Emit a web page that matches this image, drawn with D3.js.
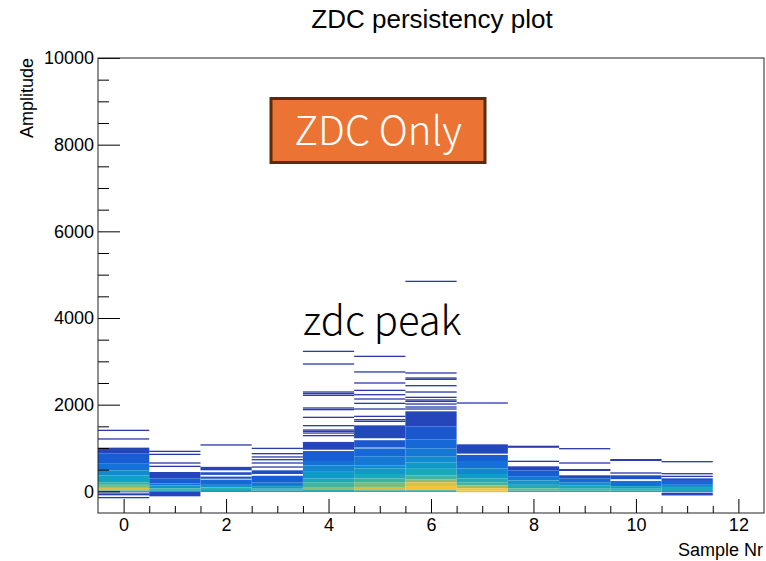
<!DOCTYPE html>
<html lang="en">

<head>
    <meta charset="UTF-8">
    <title>ZDC persistency plot</title>
    <script src="https://cdn.jsdelivr.net/npm/d3@7/dist/d3.min.js"></script>
    <style>
        body { margin: 0; background: #fff; }
        .axis text { font-family: "Liberation Sans", Arial, sans-serif; font-size: 18px; fill: #000; }
        .axis line { stroke: #000; }
    </style>
</head>

<body>
    <svg width="766" height="561" id="mainsvg"></svg>
    <script>
        // sample numbers (x bins)
        const samples = [0, 1, 2, 3, 4, 5, 6, 7, 8, 9, 10, 11]
        // dense part of each sample: [amp low, amp high, entries]
        const dense = [
            [[870, 1008, 1.5], [650, 870, 3], [485, 650, 5], [370, 485, 9], [210, 370, 16], [150, 210, 28], [80, 150, 45], [20, 80, 80], [-15, 20, 25], [-55, -30, 2]],
            [[300, 446, 1.5], [180, 300, 3], [140, 180, 6], [70, 140, 12], [25, 70, 30], [-15, 25, 15], [-115, -15, 1.5]],
            [[485, 565, 1.5], [380, 440, 2], [290, 340, 2.5], [150, 270, 4], [90, 150, 10], [30, 90, 25], [-15, 30, 14]],
            [[400, 485, 2], [200, 360, 3], [120, 200, 6], [60, 120, 14], [20, 60, 35], [-15, 20, 14]],
            [[960, 1140, 1.5], [700, 930, 3], [600, 700, 5], [450, 600, 8], [300, 450, 13], [200, 300, 20], [100, 200, 32], [30, 100, 50], [-15, 30, 22]],
            [[1225, 1523, 1.6], [1010, 1180, 2.5], [800, 990, 4], [600, 800, 6], [530, 600, 9], [400, 530, 13], [300, 400, 20], [200, 300, 30], [100, 200, 45], [25, 100, 75], [-15, 25, 25]],
            [[1500, 1846, 1.5], [1200, 1500, 2.5], [990, 1200, 4], [800, 990, 6], [670, 800, 9], [520, 670, 13], [370, 520, 20], [280, 370, 32], [210, 280, 50], [120, 210, 80], [25, 120, 100], [-15, 25, 25]],
            [[870, 1085, 1.6], [700, 840, 3], [530, 700, 5], [400, 530, 8], [300, 400, 14], [200, 300, 22], [140, 200, 32], [70, 140, 55], [20, 70, 100], [-20, 20, 90]],
            [[480, 577, 1.5], [350, 480, 3], [250, 350, 6], [150, 250, 12], [70, 150, 22], [20, 70, 40], [-15, 20, 25]],
            [[300, 370, 1.5], [200, 300, 4], [130, 200, 10], [60, 130, 20], [20, 60, 35], [-15, 20, 20]],
            [[280, 370, 2], [120, 240, 5], [60, 120, 15], [20, 60, 30], [-15, 20, 18]],
            [[240, 300, 2], [150, 240, 4], [80, 150, 10], [30, 80, 20], [-15, 30, 15], [-95, -30, 1.5]]
        ]
        // single traces outside the dense part (amplitude values)
        const sparse = [
            [1392, 1193, -92, -160],
            [907, 838, 639, 561],
            [1055],
            [976, 854, 778, 715, 639, 546],
            [3215, 2923, 2277, 2240, 2200, 1908, 1870, 1692, 1500, 1400, 1369, 1330, 1270],
            [3100, 2740, 2485, 2315, 2215, 2116, 2015, 1885, 1715, 1638, 1600],
            [4830, 2716, 2600, 2570, 2423, 2277, 2154, 2093, 2060, 2000, 1931, 1885],
            [2023],
            [1023, 1005, 677],
            [969, 639, 485, 470],
            [715, 700, 408],
            [669, 392, 330]
        ]
        const yMajor = [0, 2000, 4000, 6000, 8000, 10000]
        const yMinor = [500, 1000, 1500, 2500, 3000, 3500, 4500, 5000, 5500, 6500, 7000, 7500, 8500, 9000, 9500]
        const xMajor = [0, 2, 4, 6, 8, 10, 12]
        const xMinor = [0.5, 1, 1.5, 2.5, 3, 3.5, 4.5, 5, 5.5, 6.5, 7, 7.5, 8.5, 9, 9.5, 10.5, 11, 11.5]

        const svg = d3.select('#mainsvg')
        const width = +svg.attr('width')
        const height = +svg.attr('height')
        const margin = { top: 58, right: 2, bottom: 48, left: 98 }
        const innerWidth = width - margin.left - margin.right
        const innerHeight = height - margin.top - margin.bottom
        const g = svg.append('g').attr('transform', `translate(${margin.left}, ${margin.top})`)

        const xScale = d3.scaleLinear().domain([-0.5, 12.5]).range([0, innerWidth])
        const yScale = d3.scaleLinear().domain([-500, 10000]).range([innerHeight, 0])
        // bird-like palette on a log count scale
        const color = d3.scaleLog()
            .domain([1, 2, 3.5, 6, 10, 18, 30, 45, 70, 100])
            .range(['#2b3aa8', '#1f4fc6', '#1663d8', '#1478d4', '#1190cc', '#10a6c0', '#3ab3a4', '#7cbc7c', '#cdbd50', '#f8c22e'])
            .clamp(true)

        const binH = 30
        samples.forEach((s, i) => {
            const cells = dense[i].map(d => ({ lo: d[0], hi: d[1], n: d[2] }))
                .concat(sparse[i].map(v => ({ lo: v, hi: v + binH, n: 1 })))
            g.selectAll('.c' + i).data(cells).join('rect')
                .attr('class', 'c' + i)
                .attr('x', xScale(s - 0.5))
                .attr('width', xScale(s + 0.5) - xScale(s - 0.5))
                .attr('y', d => yScale(d.hi))
                .attr('height', d => yScale(d.lo) - yScale(d.hi))
                .attr('fill', d => color(d.n))
        })

        // axes (ticks drawn inward)
        g.append('g').attr('class', 'axis')
            .call(d3.axisLeft(yScale).tickValues(yMajor).tickSize(-22).tickPadding(4).tickFormat(d3.format('d')))
        g.append('g').attr('class', 'axis minor')
            .call(d3.axisLeft(yScale).tickValues(yMinor).tickSize(-11))
        g.append('g').attr('class', 'axis').attr('transform', `translate(0, ${innerHeight})`)
            .call(d3.axisBottom(xScale).tickValues(xMajor).tickSize(-14).tickPadding(5))
        g.append('g').attr('class', 'axis minor').attr('transform', `translate(0, ${innerHeight})`)
            .call(d3.axisBottom(xScale).tickValues(xMinor).tickSize(-7))
        g.selectAll('.minor text').remove()
        g.selectAll('.axis .domain').remove()

        g.append('rect').attr('width', innerWidth).attr('height', innerHeight)
            .attr('fill', 'none').attr('stroke', '#222').attr('stroke-width', 1)

        // titles
        svg.append('text').attr('x', 432).attr('y', 28).attr('text-anchor', 'middle')
            .attr('font-family', 'Liberation Sans, Arial, sans-serif').attr('font-size', 26)
            .text('ZDC persistency plot')
        svg.append('text').attr('transform', 'translate(33, 58) rotate(-90)').attr('text-anchor', 'end')
            .attr('font-family', 'Liberation Sans, Arial, sans-serif').attr('font-size', 18)
            .text('Amplitude')
        svg.append('text').attr('x', 763).attr('y', 556).attr('text-anchor', 'end')
            .attr('font-family', 'Liberation Sans, Arial, sans-serif').attr('font-size', 18)
            .text('Sample Nr')

        // annotations
        svg.append('rect').attr('x', 271).attr('y', 98.5).attr('width', 214).attr('height', 64)
            .attr('fill', '#eb7434').attr('stroke', '#5a2c0e').attr('stroke-width', 3)
        svg.append('text').attr('x', 378).attr('y', 145).attr('text-anchor', 'middle')
            .attr('font-family', 'Noto Sans CJK JP, Noto Sans, sans-serif').attr('font-weight', 300)
            .attr('font-size', 40).attr('fill', '#fff')
            .text('ZDC Only')
        svg.append('text').attr('x', 303).attr('y', 335)
            .attr('font-family', 'Noto Sans CJK JP, Noto Sans, sans-serif').attr('font-weight', 300)
            .attr('font-size', 40).attr('fill', '#000')
            .text('zdc peak')
    </script>
</body>

</html>
